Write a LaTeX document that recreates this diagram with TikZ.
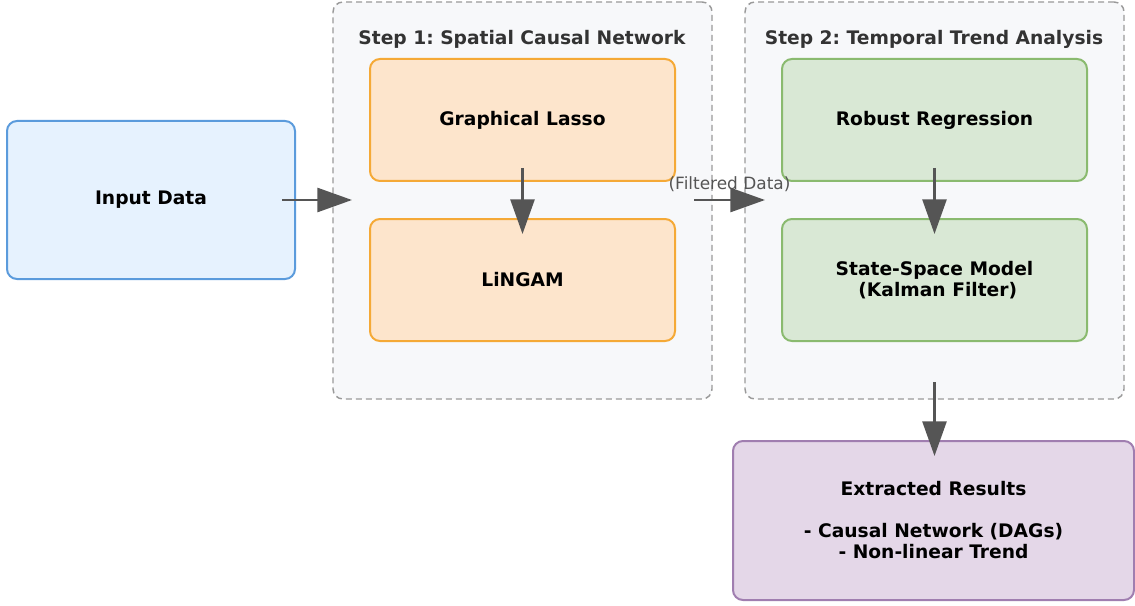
\documentclass[tikz,border=0pt]{standalone}
\usepackage{fontspec}
\setmainfont{DejaVu Sans}
\frenchspacing
\usetikzlibrary{arrows.meta,calc}
\definecolor{bluefill}{HTML}{E6F2FE}
\definecolor{bluedraw}{HTML}{5B9BDC}
\definecolor{orfill}{HTML}{FDE5CC}
\definecolor{ordraw}{HTML}{F5A936}
\definecolor{grfill}{HTML}{D9E8D5}
\definecolor{grdraw}{HTML}{8ABA6F}
\definecolor{pufill}{HTML}{E4D7E8}
\definecolor{pudraw}{HTML}{A07EB0}
\definecolor{clfill}{HTML}{F7F8FA}
\definecolor{cldraw}{HTML}{9A9A9A}
\definecolor{titlecol}{HTML}{333333}
\definecolor{arrcol}{HTML}{555555}
\tikzset{
  box/.style={rectangle, rounded corners=7.5pt, line width=1.5pt, inner sep=0pt, outer sep=0pt,
    font=\fontsize{14}{15.75}\selectfont\bfseries, align=center, text=black},
  cluster/.style={rectangle, rounded corners=7.5pt, draw=cldraw, fill=clfill, line width=1.1pt,
    dash pattern=on 4.5pt off 3pt, inner sep=0pt, outer sep=0pt,
    minimum width=379*0.75pt, minimum height=397*0.75pt},
  ctitle/.style={font=\fontsize{14}{16}\selectfont\bfseries, text=titlecol, inner sep=0pt},
  inbox/.style={box, draw=bluedraw, fill=bluefill, minimum width=288*0.75pt, minimum height=158*0.75pt},
  orbox/.style={box, draw=ordraw, fill=orfill, minimum width=305*0.75pt, minimum height=122*0.75pt},
  grbox/.style={box, draw=grdraw, fill=grfill, minimum width=305*0.75pt, minimum height=122*0.75pt},
  pubox/.style={box, draw=pudraw, fill=pufill, minimum width=401*0.75pt, minimum height=159*0.75pt},
  flow/.style={draw=arrcol, line width=2pt, -{Triangle[length=26pt, width=18pt]}},
  flowlabel/.style={font=\fontsize{12.7}{14}\selectfont, text=arrcol, inner sep=0pt}
}
\begin{document}
\begin{tikzpicture}[x=0.75pt, y=-0.75pt]
\useasboundingbox (0,0) rectangle (1135,606);
% clusters
\node[cluster] (s1) at (522.5,200.5) {};
\node[cluster] (s2) at (934.5,200.5) {};
\node[ctitle] (t1) at (522,39) {Step 1: Spatial Causal Network};
\node[ctitle] (t2) at (934,39) {Step 2: Temporal Trend Analysis};
% boxes
\node[inbox] (in) at (151,200) {Input Data};
\node[orbox] (gl) at (522.5,120) {Graphical Lasso};
\node[orbox] (lg) at (522.5,280) {LiNGAM};
\node[grbox] (rr) at (934.5,120) {Robust Regression};
\node[grbox] (ss) at (934.5,280) {State-Space Model\\\ (Kalman Filter)};
\node[pubox] (out) at (933.5,520.5) {Extracted Results\\[15.75pt]- Causal Network (DAGs)\\- Non-linear Trend};
% arrows
\draw[flow] ($(in.east)+(-13,0)$) -- ($(in.east -| s1.west)+(19,0)$);
\draw[flow] ($(gl.south)+(0,-13)$) -- ($(lg.north)+(0,15)$);
\draw[flow] ($(in.east -| s1.east)+(-18,0)$) -- node[flowlabel, midway, yshift=12pt] (fl) {(Filtered Data)} ($(in.east -| s2.west)+(20,0)$);
\draw[flow] ($(rr.south)+(0,-13)$) -- ($(ss.north)+(0,15)$);
\draw[flow] ($(s2.south)+(0,-17)$) -- ($(s2.south |- out.north)+(0,15)$);
\end{tikzpicture}
\end{document}
